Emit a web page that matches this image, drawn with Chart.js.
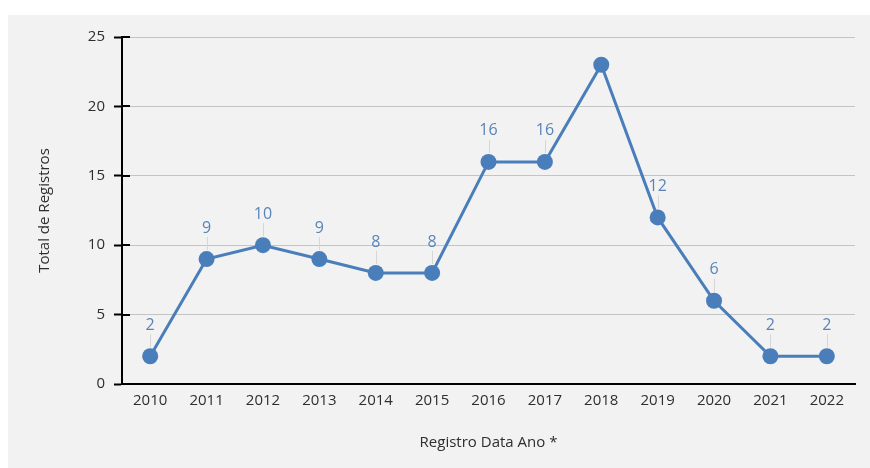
<!DOCTYPE html>
<html>
<head>
<meta charset="utf-8">
<title>Total de Registros por Ano</title>
<script src="https://cdn.jsdelivr.net/npm/chart.js@4.4.1/dist/chart.umd.min.js"></script>
<style>
  html, body { margin: 0; padding: 0; background: #fff; }
  #wrap { width: 870px; height: 468px; position: relative; }
</style>
</head>
<body>
<div id="wrap"><canvas id="mycanvas"></canvas></div>
<script>
// registros por ano
var anos = ['2010', '2011', '2012', '2013', '2014', '2015', '2016', '2017', '2018', '2019', '2020', '2021', '2022'];
var registros = [2, 9, 10, 9, 8, 8, 16, 16, 23, 12, 6, 2, 2];
var semRotulo = ['2018'];
var yTicks = [0, 5, 10, 15, 20, 25];

var azul = '#4a7ebb';

// gray panel behind the chart
var painel = {
  id: 'painel',
  beforeDraw: function(chart) {
    var ctx = chart.ctx;
    ctx.save();
    ctx.fillStyle = '#f2f2f2';
    ctx.fillRect(8, 15, chart.width - 8, chart.height - 15);
    ctx.restore();
  }
};

// small black ticks crossing into the plot + value labels with leader lines
var rotulos = {
  id: 'rotulos',
  afterDatasetsDraw: function(chart) {
    var ctx = chart.ctx;
    var y = chart.scales.y;
    var left = chart.chartArea.left;
    ctx.save();
    ctx.strokeStyle = '#000';
    ctx.lineWidth = 2;
    yTicks.forEach(function(v) {
      var py = Math.round(y.getPixelForValue(v));
      ctx.beginPath();
      ctx.moveTo(left, py);
      ctx.lineTo(left + 8, py);
      ctx.stroke();
    });

    var meta = chart.getDatasetMeta(0);
    ctx.font = '16px "Open Sans"';
    ctx.textAlign = 'center';
    ctx.textBaseline = 'middle';
    meta.data.forEach(function(pt, i) {
      if (semRotulo.indexOf(anos[i]) >= 0) return;
      ctx.strokeStyle = '#d6d6d6';
      ctx.lineWidth = 1;
      ctx.beginPath();
      ctx.moveTo(Math.round(pt.x) + 0.5, pt.y - 9);
      ctx.lineTo(Math.round(pt.x) + 0.5, pt.y - 22);
      ctx.stroke();
      ctx.fillStyle = '#5a84b8';
      ctx.fillText(String(registros[i]), pt.x, pt.y - 31);
    });
    ctx.restore();
  }
};

var ctx = document.getElementById('mycanvas');

var grafico = new Chart(ctx, {
  type: 'line',
  data: {
    labels: anos,
    datasets: [{
      label: 'Total de Registros',
      data: registros,
      borderColor: azul,
      backgroundColor: azul,
      borderWidth: 3,
      pointRadius: 8,
      pointHoverRadius: 8,
      pointBackgroundColor: azul,
      pointBorderWidth: 0,
      fill: false,
      tension: 0
    }]
  },
  options: {
    responsive: true,
    maintainAspectRatio: false,
    animation: false,
    layout: { padding: { left: 0, right: 15, top: 37, bottom: 0 } },
    plugins: {
      legend: { display: false },
      tooltip: { enabled: false }
    },
    scales: {
      x: {
        offset: true,
        grid: { display: false, drawTicks: false },
        border: { display: true, color: '#000', width: 2 },
        ticks: { color: '#2e2e2e', font: { family: 'Open Sans', size: 15 }, padding: 8, maxRotation: 0 },
        title: {
          display: true,
          text: 'Registro Data Ano *',
          color: '#2e2e2e',
          font: { family: 'Open Sans', size: 15 },
          padding: { top: 0, bottom: 16 }
        },
        afterFit: function(scale) { scale.height = 84; }
      },
      y: {
        min: 0,
        max: 25,
        afterBuildTicks: function(scale) {
          scale.ticks = yTicks.map(function(v) { return { value: v }; });
        },
        grid: { color: '#c4c4c4', lineWidth: 1, tickColor: '#000', tickLength: 8, tickWidth: 2 },
        border: { display: true, color: '#000', width: 2 },
        ticks: { color: '#2e2e2e', font: { family: 'Open Sans', size: 15 }, padding: 9 },
        title: {
          display: true,
          text: 'Total de Registros',
          color: '#2e2e2e',
          font: { family: 'Open Sans', size: 15 },
          padding: { top: 36, bottom: 0 }
        },
        afterFit: function(scale) { scale.width = 122; }
      }
    }
  },
  plugins: [painel, rotulos]
});
</script>
</body>
</html>
